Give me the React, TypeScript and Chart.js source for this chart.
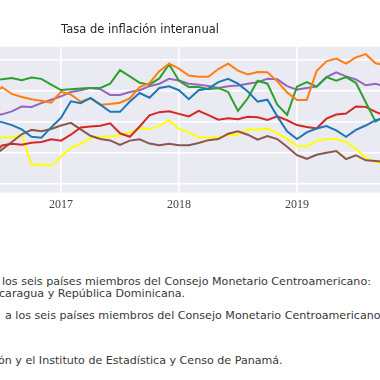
import React, { useEffect, useRef } from "react";
import { Chart, registerables } from "chart.js";

Chart.register(...registerables);

// Meses (jun 2016 – oct 2019)
const meses = [
  "2016-06", "2016-07", "2016-08", "2016-09", "2016-10", "2016-11", "2016-12",
  "2017-01", "2017-02", "2017-03", "2017-04", "2017-05", "2017-06", "2017-07", "2017-08", "2017-09", "2017-10", "2017-11", "2017-12",
  "2018-01", "2018-02", "2018-03", "2018-04", "2018-05", "2018-06", "2018-07", "2018-08", "2018-09", "2018-10", "2018-11", "2018-12",
  "2019-01", "2019-02", "2019-03", "2019-04", "2019-05", "2019-06", "2019-07", "2019-08", "2019-09", "2019-10",
];

const serieAzul = [
  2.06, 1.97, 1.78, 1.5, 1.03, 0.97, 1.63,
  2.25, 3.31, 3.19, 3.53, 3.09, 2.63, 2.63, 3.29, 3.84, 3.54, 4.16, 4.27,
  4.02, 3.44, 4.02, 4.13, 4.54, 4.75, 4.44, 3.94, 3.29, 3.41, 2.34, 1.38,
  0.88, 1.31, 1.56, 1.72, 1.44, 1.03, 1.47, 1.75, 2.09, 2.25,
];
const serieNaranja = [
  3.75, 4.22, 3.78, 3.59, 3.44, 3.34, 3.22,
  3.92, 3.75, 3.28, 3.5, 3.09, 3.13, 3.22, 3.5, 4.22, 4.47, 5.25, 5.73,
  5.41, 4.97, 4.89, 4.89, 5.38, 5.73, 5.28, 5.03, 5.19, 5.17, 4.59, 3.88,
  3.39, 3.39, 5.25, 5.88, 6.06, 5.73, 6.13, 6.34, 5.75, 5.63,
];
const serieVerde = [
  4.69, 4.72, 4.81, 4.66, 4.83, 4.75, 4.38,
  4.03, 4.09, 4.13, 4.17, 4.17, 4.44, 5.31, 4.91, 4.5, 4.38, 4.78, 5.69,
  4.63, 4.23, 4.23, 4.09, 4.16, 3.91, 2.69, 3.5, 4.63, 4.44, 3.09, 2.44,
  4.25, 4.54, 4.25, 4.86, 4.64, 4.86, 4.5, 3.25, 2.0, 2.38,
];
const serieRoja = [
  -0.13, 0.47, 0.58, 0.51, 0.64, 0.69, 0.86,
  0.78, 1.16, 1.63, 1.69, 1.73, 1.89, 1.25, 1.03, 1.69, 2.41, 2.61, 2.67,
  2.5, 2.34, 2.69, 2.42, 2.13, 2.21, 2.16, 2.31, 2.28, 2.11, 2.34, 2.09,
  1.78, 1.66, 1.56, 2.19, 2.46, 2.52, 2.98, 2.95, 2.63, 2.38,
];
const serieMorada = [
  2.38, 2.47, 2.66, 2.97, 2.94, 3.19, 3.41,
  3.63, 3.91, 4.02, 4.17, 4.09, 3.72, 3.71, 3.91, 4.02, 4.28, 4.44, 4.75,
  4.64, 4.44, 4.38, 4.29, 4.17, 4.27, 4.33, 4.44, 4.54, 4.75, 4.72, 4.28,
  4.06, 4.16, 4.25, 4.86, 5.17, 4.91, 4.72, 4.34, 4.44, 4.25,
];
const serieCafe = [
  -0.25, 0.22, 0.69, 1.19, 1.47, 1.38, 1.53,
  1.75, 1.92, 1.5, 1.09, 0.89, 0.79, 0.5, 0.78, 0.86, 0.59, 0.48, 0.58,
  0.48, 0.48, 0.63, 0.81, 0.88, 1.22, 1.38, 1.16, 0.84, 1.08, 0.88, 0.38,
  -0.16, -0.39, -0.13, 0.0, 0.11, -0.41, -0.16, -0.49, -0.53, -0.59,
];
const serieAmarilla = [
  0.94, 0.97, 1.0, 1.16, -0.77, -0.75, -0.84,
  -0.25, 0.31, 0.58, 0.94, 1.03, 1.06, 1.11, 1.31, 1.58, 1.52, 1.73, 2.08,
  1.53, 1.31, 1.0, 0.96, 1.0, 1.11, 1.17, 1.5, 1.48, 1.56, 1.25, 0.89,
  0.44, 0.42, 0.75, 0.89, 0.89, 0.69, 0.25, -0.34, -0.59, -0.69,
];

const anios = ["2017", "2018", "2019"];
const yGrid = [-2, 0, 2, 4, 6];

const titulo = "Tasa de inflación interanual";

const mesIndice = (s: string) => {
  const [a, m] = s.split("-").map(Number);
  return (a - 2017) * 12 + (m - 1);
};

const series = [
  { label: "Serie 1", data: serieAzul, color: "#1f77b4" },
  { label: "Serie 2", data: serieNaranja, color: "#ff7f0e" },
  { label: "Serie 3", data: serieVerde, color: "#2ca02c" },
  { label: "Serie 4", data: serieRoja, color: "#d62728" },
  { label: "Serie 5", data: serieMorada, color: "#9467bd" },
  { label: "Serie 6", data: serieCafe, color: "#8c564b" },
  { label: "Serie 7", data: serieAmarilla, color: "#ffff00" },
];

const fondoPlugin = {
  id: "fondo",
  beforeDraw(chart: any) {
    const { ctx, chartArea } = chart;
    ctx.save();
    ctx.fillStyle = "#eaeaf2";
    ctx.fillRect(chartArea.left, chartArea.top, chartArea.right - chartArea.left, chartArea.bottom - chartArea.top);
    ctx.restore();
  },
};

function Grafico() {
  const ref = useRef<HTMLCanvasElement | null>(null);
  useEffect(() => {
    if (!ref.current) return;
    const chart = new Chart(ref.current, {
      type: "line",
      data: {
        datasets: series.map((s) => ({
          label: s.label,
          data: meses.map((m, i) => ({ x: mesIndice(m), y: s.data[i] })),
          borderColor: s.color,
          backgroundColor: s.color,
          borderWidth: 2,
          pointRadius: 0,
          tension: 0,
          fill: false,
        })),
      },
      options: {
        animation: false,
        responsive: true,
        maintainAspectRatio: false,
        layout: { padding: { bottom: 1 } },
        plugins: {
          legend: { display: false },
          tooltip: { enabled: false },
          title: {
            display: true,
            text: titulo,
            color: "#262626",
            font: { family: "DejaVu Sans", size: 11.5, weight: "normal" },
            padding: { top: 23, bottom: 10 },
          },
        },
        scales: {
          x: {
            type: "linear",
            min: -20.45,
            max: 36.52,
            afterBuildTicks: (scale: any) => {
              scale.ticks = anios.map((a) => ({ value: (Number(a) - 2017) * 12 }));
            },
            grid: { color: "#ffffff", lineWidth: 1.5, drawTicks: false },
            border: { display: false },
            ticks: {
              padding: 5,
              color: "#444444",
              font: { family: "Liberation Serif", size: 12 },
              callback: (v: any) => String(2017 + Number(v) / 12),
            },
          },
          y: {
            min: -2.5625,
            max: 6.8125,
            afterBuildTicks: (scale: any) => {
              scale.ticks = yGrid.map((v) => ({ value: v }));
            },
            grid: { color: "#ffffff", lineWidth: 1.5, drawTicks: false },
            border: { display: false },
            ticks: { display: false },
          },
        },
      },
      plugins: [fondoPlugin],
    });
    return () => chart.destroy();
  }, []);
  return <canvas ref={ref} />;
}

const notaStyle: React.CSSProperties = {
  position: "absolute",
  whiteSpace: "pre",
  fontFamily: "DejaVu Sans",
  fontSize: 11.1,
  lineHeight: "12px",
  color: "#383838",
};

function Linea({ left, top, oculto, texto }: { left: number; top: number; oculto: string; texto: string }) {
  return (
    <div style={{ ...notaStyle, left, top }}>
      <span style={{ position: "absolute", right: "100%", top: 0, marginRight: 10 }}>{oculto}</span>
      {texto}
    </div>
  );
}

export default function App() {
  return (
    <div style={{ position: "fixed", left: 0, top: 0, width: 380, height: 380, overflow: "hidden", background: "#fff" }}>
      <div style={{ position: "absolute", left: -140, top: 0, width: 560, height: 218 }}>
        <Grafico />
      </div>
      <Linea left={2} top={276} oculto="1/ Promedio simple correspondiente a" texto="los seis países miembros del Consejo Monetario Centroamericano:" />
      <Linea left={-1} top={288} oculto="Costa Rica, El Salvador, Guatemala, Honduras, Ni" texto="caragua y República Dominicana." />
      <Linea left={5} top={310} oculto="2/ Promedio ponderado correspondiente" texto="a los seis países miembros del Consejo Monetario Centroamericano." />
      <Linea left={-2} top={355} oculto="Fuente: SECMCA, bancos centrales de la regi" texto="ón y el Instituto de Estadística y Censo de Panamá." />
    </div>
  );
}
